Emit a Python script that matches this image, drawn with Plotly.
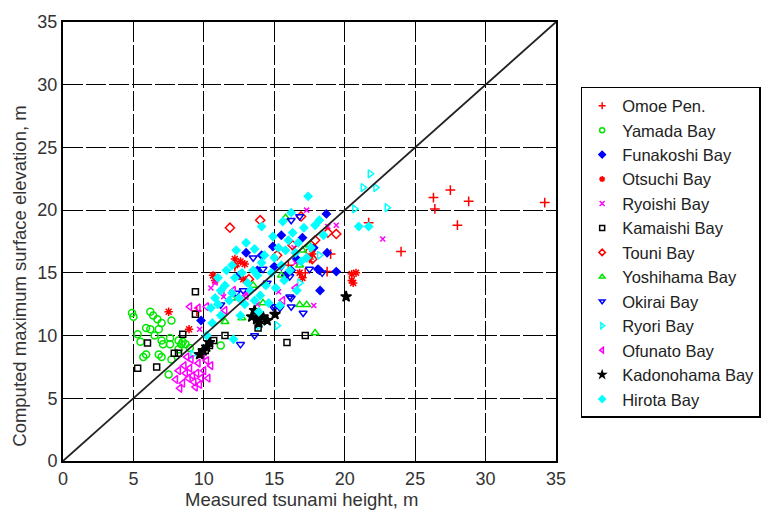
import plotly.graph_objects as go

# ---- data (measured x, computed y) ----
omoe_x = [26.3, 27.5, 26.4, 28.8, 28.0, 34.2, 24.0, 21.7, 18.75, 17.2, 12.2, 16.0, 19.0, 9.5]
omoe_y = [21.0, 21.6, 20.1, 20.7, 18.8, 20.6, 16.7, 19.0, 15.1, 15.0, 15.5, 15.6, 16.5, 11.95]

yamada_x = [4.9, 6.2, 6.4, 6.7, 7.0, 7.7, 5.9, 6.2, 6.8, 5.3, 5.5, 6.5, 7.0, 7.6, 8.2, 7.6, 8.4, 7.1,
            5.9, 5.7, 6.8, 7.0, 7.7, 7.5, 8.7, 8.2, 8.5, 11.2, 5.0, 9.0]
yamada_y = [11.8, 11.9, 11.6, 11.3, 11.0, 11.2, 10.6, 10.5, 10.5, 10.1, 9.5, 10.0, 9.6, 9.8, 9.6, 9.3, 9.3, 9.3,
            8.5, 8.3, 8.5, 8.3, 8.1, 6.9, 9.3, 8.9, 9.5, 9.2, 11.5, 9.0]

funakoshi_x = [18.75, 19.4, 18.2, 18.25, 16.2, 18.7, 14.1, 14.9, 9.8, 12.5, 13.8, 15.0, 15.8, 16.6, 17.0, 15.5, 13.0, 17.8, 18.1]
funakoshi_y = [16.6, 15.1, 15.2, 13.6, 15.2, 19.7, 16.4, 17.1, 11.2, 14.8, 15.2, 15.5, 14.8, 16.1, 17.8, 18.0, 16.6, 17.0, 15.3]

otsuchi_x = [20.5, 20.5, 20.8, 20.6, 7.5, 8.95, 12.2, 12.6, 12.9, 12.2, 17.5, 17.7, 17.0, 16.8, 10.65, 10.8, 12.8]
otsuchi_y = [14.9, 14.4, 15.0, 14.2, 11.9, 10.5, 16.1, 15.9, 15.7, 15.6, 16.1, 16.5, 14.6, 15.0, 14.8, 14.4, 14.5]

ryoishi_x = [22.7, 17.8, 17.3, 18.8, 19.4, 10.8, 10.5, 11.4, 12.3, 13.0, 14.4, 15.3, 16.5, 13.8, 9.7, 16.4]
ryoishi_y = [17.7, 12.4, 20.0, 18.7, 18.8, 14.2, 13.8, 13.1, 13.0, 13.3, 14.0, 13.5, 15.8, 12.5, 10.5, 17.0]

kamaishi_x = [9.4, 9.4, 8.5, 6.0, 7.9, 8.2, 5.3, 6.65, 11.5, 10.7, 13.85, 15.9, 10.4, 10.1, 9.85, 17.2, 14.1]
kamaishi_y = [13.5, 11.7, 10.1, 9.4, 8.6, 8.6, 7.4, 7.5, 10.0, 9.6, 10.6, 9.45, 9.2, 8.8, 8.7, 10.0, 11.2]

touni_x = [11.85, 14.0, 16.9, 18.8, 19.4, 17.5, 17.7, 17.9, 16.3, 15.2, 13.2]
touni_y = [18.6, 19.2, 19.5, 18.2, 18.1, 16.7, 16.1, 17.6, 17.2, 16.4, 14.5]

yoshihama_x = [17.9, 16.8, 17.3, 15.8, 12.0, 13.5, 14.2, 15.5, 16.8, 17.5, 12.7, 11.5, 17.0]
yoshihama_y = [10.2, 12.45, 12.45, 19.4, 13.0, 14.0, 12.6, 14.8, 15.6, 17.2, 11.4, 11.1, 16.8]

okirai_x = [12.3, 12.8, 11.2, 13.6, 12.6, 14.9, 15.05, 15.4, 16.1, 16.2, 17.05, 16.2, 16.1, 16.2, 16.8,
            15.5, 14.5, 13.8, 17.5, 18.4, 14.2, 13.5]
okirai_y = [13.4, 13.6, 12.45, 10.0, 9.3, 12.3, 12.3, 12.2, 13.1, 12.3, 11.8, 13.0, 14.7, 19.2, 19.5,
            15.5, 14.2, 11.2, 15.3, 15.0, 15.3, 16.2]

ryori_x = [21.8, 21.3, 22.2, 20.7, 23.0, 15.2, 9.2, 13.9, 16.8, 18.2]
ryori_y = [22.9, 21.8, 21.8, 20.1, 20.2, 10.8, 8.5, 10.8, 14.2, 16.4]

ofunato_x = [8.0, 8.3, 8.5, 8.7, 8.9, 9.0, 9.2, 9.3, 9.5, 9.6, 9.8, 10.0, 10.2, 9.1, 8.6, 9.4, 10.3, 9.9,
             8.2, 9.7, 10.5, 8.8, 9.0, 9.6, 10.2, 11.3, 12.1, 15.6, 16.5, 11.5, 13.0]
ofunato_y = [6.5, 5.8, 6.2, 7.0, 6.6, 7.4, 6.8, 6.3, 7.0, 7.8, 6.6, 7.2, 8.0, 8.1, 7.6, 5.9, 6.6, 8.4,
             7.2, 6.1, 7.6, 8.3, 12.3, 12.2, 12.3, 13.4, 13.6, 12.8, 13.8, 12.0, 13.2]

kadonohama_x = [13.4, 13.75, 14.2, 15.05, 13.6, 10.2, 9.95, 10.4, 9.7, 20.1, 13.9, 14.5]
kadonohama_y = [11.5, 11.3, 11.5, 11.7, 12.0, 9.1, 8.8, 9.45, 8.5, 13.1, 11.0, 11.2]

hirota_x = [10.5, 10.8, 11.0, 11.2, 11.5, 11.8, 12.0, 12.2, 12.5, 12.7, 12.9, 13.1, 13.3, 13.5, 13.6, 13.8,
            14.0, 14.1, 14.3, 14.4, 14.6, 14.8, 15.0, 15.1, 15.3, 15.5, 15.7, 15.8, 16.0, 16.1, 16.3, 16.5,
            16.7, 16.9, 17.1, 17.3, 17.6, 17.9, 18.2, 18.5, 17.4, 21.0, 21.7, 14.1, 13.0, 12.3, 11.6, 10.2,
            12.1, 11.2, 10.6, 13.9, 15.4, 16.6, 12.6, 14.9, 15.6, 16.2, 13.6, 12.0, 11.0]
hirota_y = [12.2, 13.0, 12.5, 13.6, 14.0, 12.8, 13.4, 14.6, 13.0, 15.0, 12.5, 14.2, 13.6, 15.2, 12.8, 14.8,
            13.2, 15.8, 16.4, 14.0, 12.6, 15.0, 16.2, 13.8, 17.0, 15.6, 14.4, 16.8, 17.6, 15.2, 18.2, 16.6,
            17.4, 15.9, 18.6, 16.2, 17.0, 18.8, 19.2, 18.0, 21.1, 18.7, 18.7, 18.7, 17.4, 16.8, 15.2, 10.0,
            9.7, 11.6, 11.0, 11.9, 12.4, 13.6, 11.6, 17.9, 19.1, 19.8, 16.9, 15.6, 14.6]

line_x = [0, 35]
line_y = [0, 35]

x_ticks = [0, 5, 10, 15, 20, 25, 30, 35]
y_ticks = [0, 5, 10, 15, 20, 25, 30, 35]

x_title = "Measured tsunami height, m"
y_title = "Computed maximum surface elevation, m"

series = [
    ("Omoe Pen.", omoe_x, omoe_y, "cross-thin-open", "#ff0000", 7),
    ("Yamada Bay", yamada_x, yamada_y, "circle-open", "#00e600", 7),
    ("Funakoshi Bay", funakoshi_x, funakoshi_y, "diamond", "#0000ff", 6),
    ("Otsuchi Bay", otsuchi_x, otsuchi_y, "asterisk-open", "#ff0000", 7),
    ("Ryoishi Bay", ryoishi_x, ryoishi_y, "x-thin-open", "#ff00ff", 5),
    ("Kamaishi Bay", kamaishi_x, kamaishi_y, "square-open", "#000000", 6),
    ("Touni Bay", touni_x, touni_y, "diamond-open", "#ff0000", 7),
    ("Yoshihama Bay", yoshihama_x, yoshihama_y, "triangle-up-open", "#00e600", 7),
    ("Okirai Bay", okirai_x, okirai_y, "triangle-down-open", "#0000ff", 7),
    ("Ryori Bay", ryori_x, ryori_y, "triangle-right-open", "#00ffff", 7),
    ("Ofunato Bay", ofunato_x, ofunato_y, "triangle-left-open", "#ff00ff", 7),
    ("Kadonohama Bay", kadonohama_x, kadonohama_y, "star", "#000000", 8),
    ("Hirota Bay", hirota_x, hirota_y, "diamond", "#00ffff", 6),
]

fig = go.Figure()
for name, xs, ys, sym, col, sz in series:
    fig.add_trace(go.Scatter(
        x=xs, y=ys, mode="markers", name=name, showlegend=False,
        marker=dict(symbol=sym, color=col, size=sz, line=dict(color=col, width=1.5)),
    ))

fig.add_trace(go.Scatter(x=line_x, y=line_y, mode="lines", showlegend=False,
                         line=dict(color="#222222", width=1.8)))

# legend entries with the small markers of the reference legend
for name, xs, ys, sym, col, sz in series:
    fig.add_trace(go.Scatter(
        x=[None], y=[None], mode="markers", name=name,
        marker=dict(symbol=sym, color=col, size=5, line=dict(color=col, width=1.5)),
    ))

tick_font = dict(family="Arial, Liberation Sans", size=18, color="#333333")
title_font = dict(family="Arial, Liberation Sans", size=18.5, color="#333333")

axis_common = dict(
    range=[0, 35], showgrid=True, gridcolor="#000000", gridwidth=1,
    griddash="20px,3px", showline=True, linecolor="#000000", linewidth=2, mirror=True,
    ticks="inside", ticklen=5, tickcolor="#000000", zeroline=False,
    tickfont=tick_font,
)

fig.update_layout(
    width=781, height=517,
    margin=dict(l=63, r=225, t=13, b=56),
    plot_bgcolor="white", paper_bgcolor="white",
    xaxis=dict(**axis_common, tickvals=x_ticks),
    yaxis=dict(**axis_common, tickvals=y_ticks),
    legend=dict(x=1.05, y=0.852, xanchor="left", yanchor="top", tracegroupgap=0,
                bordercolor="#000000", borderwidth=1.5, bgcolor="white",
                font=dict(family="Arial, Liberation Sans", size=16.5, color="#222222")),
    annotations=[
        dict(text=x_title, xref="paper", yref="paper", x=0.483, y=-0.088,
             xanchor="center", yanchor="middle", showarrow=False, font=title_font),
        dict(text=y_title, xref="paper", yref="paper", x=-0.087, y=0.42,
             xanchor="center", yanchor="middle", showarrow=False, textangle=-90,
             font=title_font),
    ],
)

fig.write_html("out.html")
